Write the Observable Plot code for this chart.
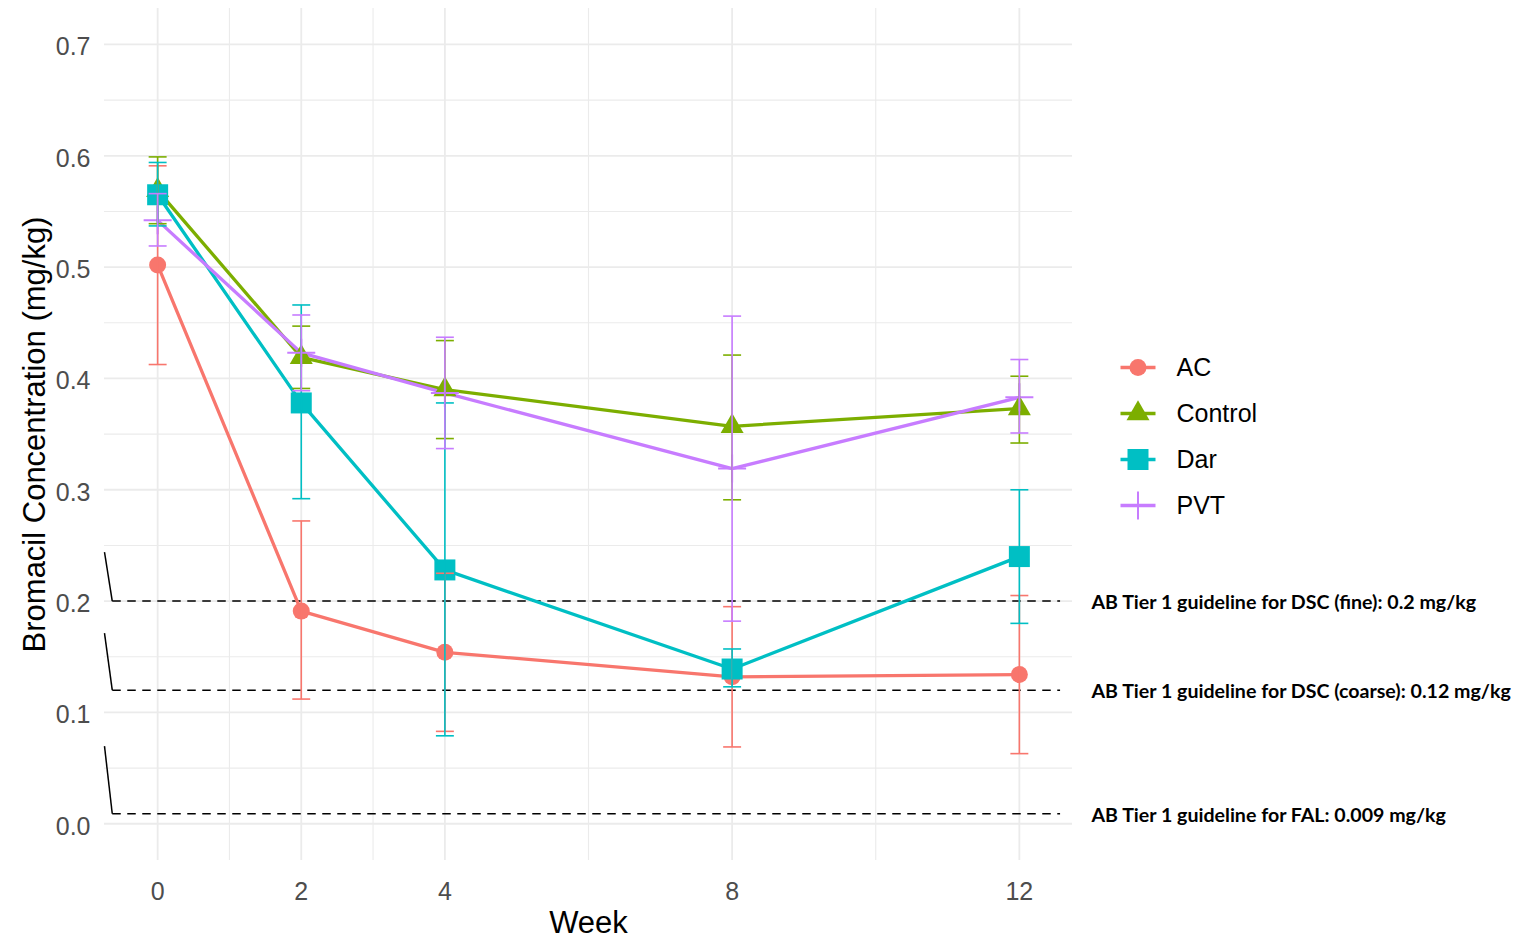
<!DOCTYPE html>
<html><head><meta charset="utf-8">
<script src="https://cdn.jsdelivr.net/npm/d3@7"></script>
<script src="https://cdn.jsdelivr.net/npm/@observablehq/plot@0.6"></script>
<style>
body{margin:0;background:#fff;}
#wrap{position:relative;width:1529px;height:941px;background:#fff;font-family:"Liberation Sans",Arial,sans-serif;}
#legend{position:absolute;left:1100px;top:340px;}
</style>
</head><body><div id="wrap"></div>
<script>
// ---- data ----
const weeks = [0, 2, 4, 8, 12];
const groups = ["AC", "Control", "Dar", "PVT"];
const colors = ["#F8766D", "#7CAE00", "#00BFC4", "#C77CFF"];

const acMean  = [0.502, 0.191, 0.154, 0.132, 0.134];
const acLow   = [0.4125, 0.112, 0.083, 0.069, 0.063];
const acHigh  = [0.591, 0.272, 0.225, 0.195, 0.205];

const controlMean = [0.569, 0.419, 0.390, 0.357, 0.373];
const controlLow  = [0.539, 0.391, 0.346, 0.291, 0.342];
const controlHigh = [0.599, 0.447, 0.434, 0.421, 0.402];

const darMean = [0.565, 0.378, 0.228, 0.139, 0.240];
const darLow  = [0.537, 0.292, 0.079, 0.123, 0.180];
const darHigh = [0.594, 0.466, 0.378, 0.157, 0.300];

const pvtMean = [0.542, 0.423, 0.387, 0.319, 0.383];
const pvtLow  = [0.519, 0.389, 0.337, 0.182, 0.351];
const pvtHigh = [0.566, 0.457, 0.437, 0.456, 0.417];

const yTicks = [0, 0.1, 0.2, 0.3, 0.4, 0.5, 0.6, 0.7];
const yMinor = [0.05, 0.15, 0.25, 0.35, 0.45, 0.55, 0.65];
const xMinor = [1, 3, 6, 10];

const guideValues = [0.2, 0.12, 0.009];
const guideLabels = [
  "AB Tier 1 guideline for DSC (fine): 0.2 mg/kg",
  "AB Tier 1 guideline for DSC (coarse): 0.12 mg/kg",
  "AB Tier 1 guideline for FAL: 0.009 mg/kg"
];
const guideStart = [-0.632, -0.632, -0.632];
const guideEnd = [12.567, 12.567, 12.567];
const leaderX = [-0.74, -0.74, -0.74];
const leaderY = [0.244, 0.1712, 0.0697];

// ---- build tables ----
const meansBy = {AC: acMean, Control: controlMean, Dar: darMean, PVT: pvtMean};
const lowsBy  = {AC: acLow, Control: controlLow, Dar: darLow, PVT: pvtLow};
const highsBy = {AC: acHigh, Control: controlHigh, Dar: darHigh, PVT: pvtHigh};
const rows = [];
for (const g of groups) weeks.forEach((w, i) => rows.push({group: g, week: w, mean: meansBy[g][i], lo: lowsBy[g][i], hi: highsBy[g][i]}));

const capHalf = 0.125;
const errSegs = [];
for (const r of rows) {
  errSegs.push({group: r.group, x1: r.week, x2: r.week, y1: r.lo, y2: r.hi});
  errSegs.push({group: r.group, x1: r.week - capHalf, x2: r.week + capHalf, y1: r.lo, y2: r.lo});
  errSegs.push({group: r.group, x1: r.week - capHalf, x2: r.week + capHalf, y1: r.hi, y2: r.hi});
}
const guides = guideValues.map((v, i) => ({v, label: guideLabels[i], x1: guideStart[i], x2: guideEnd[i], lx: leaderX[i], ly: leaderY[i]}));

// ---- symbols (r = half extent) ----
const rad = s => Math.sqrt(s / Math.PI);
const symCircle = {draw(c, s){const r = rad(s); c.moveTo(r, 0); c.arc(0, 0, r, 0, 2*Math.PI);}};
const symTri = {draw(c, s){const r = rad(s), h = r*Math.sqrt(3); c.moveTo(0, -h*2/3); c.lineTo(r, h/3); c.lineTo(-r, h/3); c.closePath();}};
const symSquare = {draw(c, s){const r = rad(s); c.rect(-r, -r, 2*r, 2*r);}};
const symPlus = {draw(c, s){const r = rad(s); c.moveTo(-r, 0); c.lineTo(r, 0); c.moveTo(0, -r); c.lineTo(0, r);}};
const symSpec = {
  AC: {symbol: symCircle, r: 8.5, fill: true},
  Control: {symbol: symTri, r: 11.5, fill: true},
  Dar: {symbol: symSquare, r: 10.5, fill: true},
  PVT: {symbol: symPlus, r: 14, fill: false}
};
function dotMark(data, g, xOpt, yOpt) {
  const s = symSpec[g];
  const col = colors[groups.indexOf(g)];
  return Plot.dot(data, {x: xOpt, y: yOpt, symbol: s.symbol, r: s.r,
    fill: s.fill ? col : "none", stroke: s.fill ? "none" : col, strokeWidth: s.fill ? 0 : 2});
}

const colorScale = {domain: groups, range: colors};
const grid = "#ebebeb";

const chart = Plot.plot({
  width: 1529, height: 941,
  marginLeft: 104, marginRight: 457, marginTop: 8, marginBottom: 81,
  style: {fontFamily: "'Liberation Sans', Arial, sans-serif", background: "#fff"},
  x: {type: "linear", domain: [-0.74, 12.74], axis: null},
  y: {type: "linear", domain: [-0.033, 0.7323], axis: null},
  color: colorScale,
  marks: [
    Plot.ruleY(yMinor, {stroke: grid, strokeWidth: 1.1}),
    Plot.ruleX(xMinor, {stroke: grid, strokeWidth: 1.1}),
    Plot.ruleY(yTicks, {stroke: grid, strokeWidth: 1.8}),
    Plot.ruleX(weeks, {stroke: grid, strokeWidth: 1.8}),
    Plot.axisX(weeks, {tickSize: 0, tickPadding: 22, fontSize: 25, color: "#4d4d4d", tickFormat: d => String(d), label: null}),
    Plot.axisY(yTicks, {tickSize: 0, tickPadding: 14, dy: 3, fontSize: 25, color: "#4d4d4d", tickFormat: d3.format(".1f"), label: null}),
    Plot.text(["Week"], {frameAnchor: "bottom", dy: 63, text: d => d, fontSize: 31, fill: "#000", lineAnchor: "middle"}),
    Plot.text(["Bromacil Concentration (mg/kg)"], {frameAnchor: "left", dx: -69, rotate: -90, text: d => d, fontSize: 31, fill: "#000", lineAnchor: "middle", textAnchor: "middle"}),
    Plot.link(guides, {x1: "x1", x2: "x2", y1: "v", y2: "v", stroke: "#000", strokeWidth: 1.5, strokeDasharray: "8.5,6.5"}),
    Plot.link(guides, {x1: "lx", x2: "x1", y1: "ly", y2: "v", stroke: "#000", strokeWidth: 1.5}),
    Plot.text(guides, {x: () => 12.74, y: "v", dx: 19, dy: 1.5, text: "label", textAnchor: "start", lineAnchor: "middle", fontSize: 19.6, fontWeight: "bold", fontFamily: "Lato, 'Open Sans', sans-serif", fill: "#000"}),
    Plot.line(rows, {x: "week", y: "mean", z: "group", stroke: "group", strokeWidth: 3.3}),
    ...groups.map(g => dotMark(rows.filter(r => r.group === g), g, "week", "mean")),
    Plot.link(errSegs, {x1: "x1", x2: "x2", y1: "y1", y2: "y2", stroke: "group", strokeWidth: 1.6})
  ]
});

// ---- legend ----
const legendRows = groups.map((g, i) => ({group: g, i}));
const legend = Plot.plot({
  width: 300, height: 200, margin: 0,
  style: {fontFamily: "'Liberation Sans', Arial, sans-serif", background: "transparent"},
  x: {type: "linear", domain: [0, 1], range: [20, 55], axis: null},
  y: {type: "linear", domain: [0, 3], range: [27, 165], axis: null},
  color: colorScale,
  marks: [
    Plot.link(legendRows, {x1: () => 0, x2: () => 1, y1: "i", y2: "i", stroke: "group", strokeWidth: 3.3}),
    ...groups.map(g => dotMark(legendRows.filter(r => r.group === g), g, () => 0.5, "i")),
    Plot.text(legendRows, {x: () => 1, dx: 21, y: "i", text: "group", textAnchor: "start", lineAnchor: "middle", fontSize: 25, fill: "#000"})
  ]
});
legend.id = "legend";

const wrap = document.getElementById("wrap");
wrap.appendChild(chart);
wrap.appendChild(legend);
</script>
</body></html>
